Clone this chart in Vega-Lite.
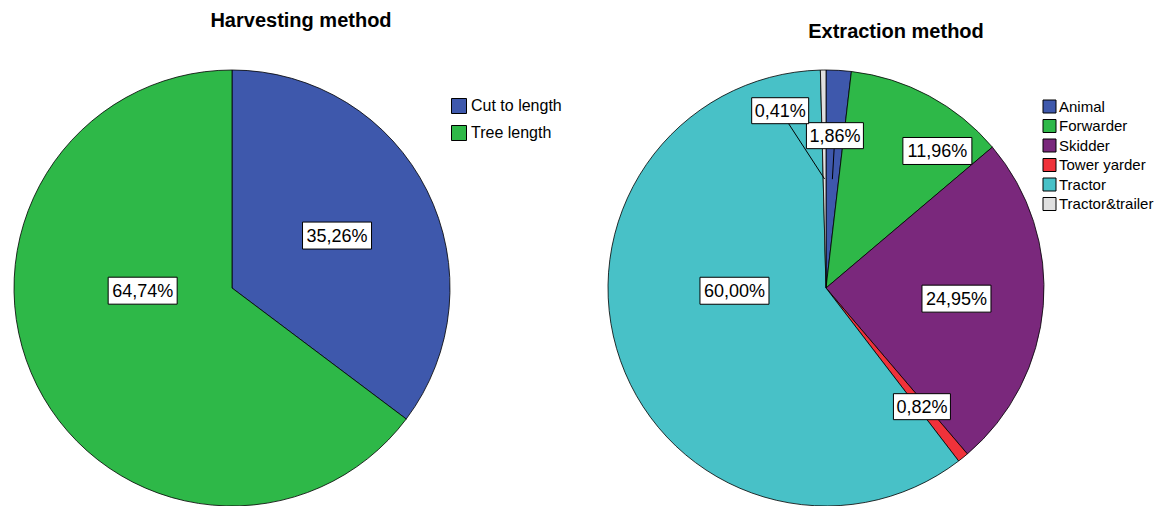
{
  "$schema": "https://vega.github.io/schema/vega-lite/v6.json",
  "background": "white",
  "autosize": {"type": "pad"},
  "padding": {"left": 12, "top": 11, "right": 0, "bottom": 0},
  "config": {
    "view": {"stroke": null},
    "font": "Liberation Sans",
    "legend": {"labelColor": "black", "labelFont": "Liberation Sans", "symbolType": "square", "symbolStrokeColor": "black", "symbolStrokeWidth": 1, "padding": 0}
  },
  "bounds": "flush",
  "spacing": 158,
  "resolve": {
    "scale": {"color": "independent", "x": "independent", "y": "independent", "theta": "independent"},
    "legend": {"color": "independent"}
  },
  "hconcat": [
    {
      "width": 436,
      "height": 436,
      "title": {"text": "Harvesting method", "fontSize": 20, "fontWeight": "bold", "font": "Liberation Sans", "color": "black", "anchor": "middle", "frame": "group", "dx": 69, "offset": 21, "baseline": "alphabetic"},
      "data": {"values": [
        {"method": "Cut to length", "share": 0.3526},
        {"method": "Tree length", "share": 0.6474}
      ]},
      "layer": [
        {
          "mark": {"type": "arc", "stroke": "black", "strokeWidth": 0.8},
          "encoding": {
            "theta": {"field": "share", "type": "quantitative", "stack": true},
            "color": {
              "field": "method", "type": "nominal",
              "scale": {"domain": ["Cut to length", "Tree length"], "range": ["#3E58AC", "#2EB848"]},
              "legend": {"title": null, "orient": "none", "legendX": 437, "legendY": 28, "labelFontSize": 16, "symbolSize": 225, "rowPadding": 7, "labelOffset": 4}
            }
          }
        },
        {
          "transform": [
            {"window": [{"op": "sum", "field": "share", "as": "cum"}], "sort": [{"field": "method"}], "frame": [null, 0]},
            {"calculate": "(datum.cum - datum.share / 2) * 2 * PI", "as": "mid"},
            {"calculate": "datum.share * PI", "as": "half"},
            {"calculate": "datum.share > 0.5 ? 1.5 * PI - 0.03 : datum.mid", "as": "la"},
            {"calculate": "datum.share > 0.5 ? 0.41 : 2 / 3 * sin(datum.half) / datum.half", "as": "lr"},
            {"calculate": "datum.lr * sin(datum.la)", "as": "lx"},
            {"calculate": "datum.lr * cos(datum.la)", "as": "ly"},
            {"calculate": "replace(format(datum.share * 100, '.2f'), '.', ',') + '%'", "as": "label"}
          ],
          "encoding": {
            "x": {"field": "lx", "type": "quantitative", "scale": {"domain": [-1, 1], "nice": false, "zero": false}, "axis": null},
            "y": {"field": "ly", "type": "quantitative", "scale": {"domain": [-1, 1], "nice": false, "zero": false}, "axis": null}
          },
          "layer": [
            {
              "mark": {"type": "point", "filled": true, "fill": "white", "stroke": "black", "strokeWidth": 1, "opacity": 1, "shape": "M-1,-0.391H1V0.391H-1Z", "size": 4761}
            },
            {
              "mark": {"type": "text", "font": "Liberation Sans", "fontSize": 18, "color": "black", "align": "center", "baseline": "middle", "dy": 1},
              "encoding": {"text": {"field": "label", "type": "nominal"}}
            }
          ]
        }
      ]
    },
    {
      "width": 436,
      "height": 436,
      "title": {"text": "Extraction method", "fontSize": 20, "fontWeight": "bold", "font": "Liberation Sans", "color": "black", "anchor": "middle", "frame": "group", "dx": 70, "offset": 10, "baseline": "alphabetic"},
      "data": {"values": [
        {"method": "Animal", "share": 0.0186},
        {"method": "Forwarder", "share": 0.1196},
        {"method": "Skidder", "share": 0.2495},
        {"method": "Tower yarder", "share": 0.0082},
        {"method": "Tractor", "share": 0.6},
        {"method": "Tractor&trailer", "share": 0.0041}
      ]},
      "layer": [
        {
          "mark": {"type": "arc", "stroke": "black", "strokeWidth": 0.8},
          "encoding": {
            "theta": {"field": "share", "type": "quantitative", "stack": true},
            "color": {
              "field": "method", "type": "nominal",
              "scale": {"domain": ["Animal", "Forwarder", "Skidder", "Tower yarder", "Tractor", "Tractor&trailer"], "range": ["#3E58AC", "#2EB848", "#7A287C", "#F0323A", "#48C1C7", "#E0E0E0"]},
              "legend": {"title": null, "orient": "none", "legendX": 434, "legendY": 29, "labelFontSize": 15, "symbolSize": 169, "rowPadding": 2.5, "labelOffset": 2}
            }
          }
        },
        {
          "transform": [
            {"window": [{"op": "sum", "field": "share", "as": "cum"}], "sort": [{"field": "method"}], "frame": [null, 0]},
            {"calculate": "(datum.cum - datum.share / 2) * 2 * PI", "as": "mid"},
            {"calculate": "datum.share * PI", "as": "half"},
            {"calculate": "datum.share > 0.5 ? 1.5 * PI - 0.03 : datum.share < 0.006 ? datum.mid - 0.24 : datum.share > 0.05 && datum.share < 0.15 ? datum.mid + 0.19 : datum.mid", "as": "la"},
            {"calculate": "datum.share > 0.5 ? 0.42 : datum.share < 0.006 ? 0.84 : datum.share < 0.03 ? 0.7 : datum.share < 0.15 ? 0.81 : 2 / 3 * sin(datum.half) / datum.half", "as": "lr"},
            {"calculate": "datum.lr * sin(datum.la)", "as": "lx"},
            {"calculate": "datum.lr * cos(datum.la)", "as": "ly"},
            {"calculate": "0.5 * sin(datum.mid)", "as": "ex"},
            {"calculate": "0.5 * cos(datum.mid)", "as": "ey"},
            {"calculate": "replace(format(datum.share * 100, '.2f'), '.', ',') + '%'", "as": "label"}
          ],
          "encoding": {
            "x": {"field": "lx", "type": "quantitative", "scale": {"domain": [-1, 1], "nice": false, "zero": false}, "axis": null},
            "y": {"field": "ly", "type": "quantitative", "scale": {"domain": [-1, 1], "nice": false, "zero": false}, "axis": null}
          },
          "layer": [
            {
              "transform": [{"filter": "datum.share < 0.03 && datum.method !== 'Tower yarder'"}],
              "mark": {"type": "rule", "color": "black", "strokeWidth": 1},
              "encoding": {
                "x2": {"field": "ex"},
                "y2": {"field": "ey"}
              }
            },
            {
              "mark": {"type": "point", "filled": true, "fill": "white", "stroke": "black", "strokeWidth": 1, "opacity": 1},
              "encoding": {
                "shape": {"condition": {"test": "datum.share < 0.1", "value": "M-1,-0.456H1V0.456H-1Z"}, "value": "M-1,-0.391H1V0.391H-1Z"},
                "size": {"condition": {"test": "datum.share < 0.1", "value": 3249}, "value": 4761}
              }
            },
            {
              "mark": {"type": "text", "font": "Liberation Sans", "fontSize": 18, "color": "black", "align": "center", "baseline": "middle", "dy": 1},
              "encoding": {"text": {"field": "label", "type": "nominal"}}
            }
          ]
        }
      ]
    }
  ]
}
